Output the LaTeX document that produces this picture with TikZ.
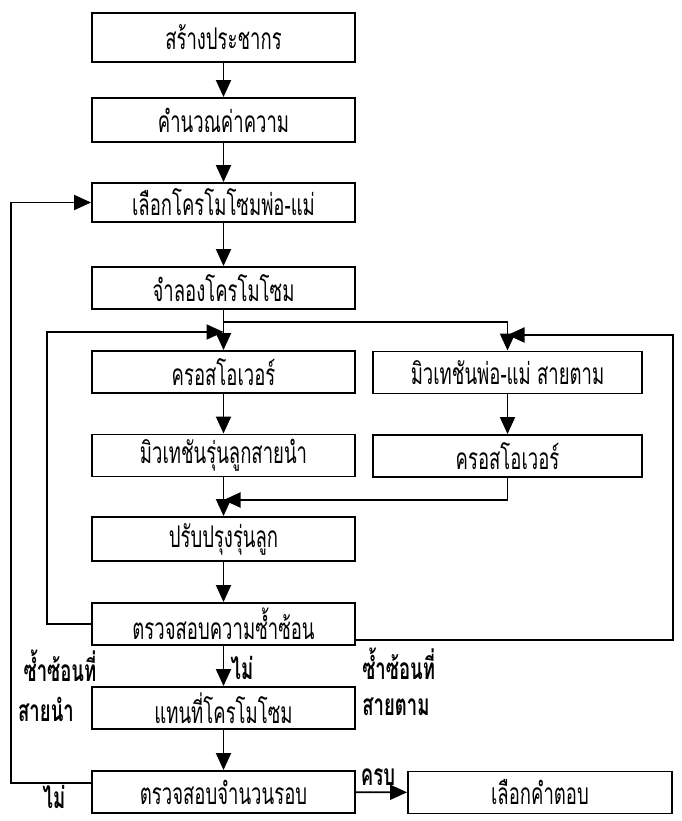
\documentclass[tikz,border=0pt]{standalone}
\usepackage{fontspec}
\newfontfamily\thaifont[Script=Thai,FakeStretch=0.62]{Loma}
\usepackage{tikz}
\usetikzlibrary{arrows.meta}

\begin{document}
\begin{tikzpicture}
            [
            x=0.02cm, y=-0.02cm,
            box/.style={draw,line width=1.1pt,minimum width=5.26cm,minimum height=0.84cm,inner sep=0pt,font=\thaifont\fontsize{17}{20}\selectfont},
            line/.style={line width=1.1pt},
            arrow/.style={line width=1.1pt,-{Triangle[length=0.34cm,width=0.3cm]}},
            note/.style={inner sep=0pt,font=\thaifont\bfseries\fontsize{17}{20}\selectfont}
            ]
        \useasboundingbox (0,0) rectangle (681,821);
        \node[box,minimum height=0.98cm] (pop) at (223.5,37.5) {สร้างประชากร};
        \node[box,minimum height=0.88cm] (fit) at (223.5,120) {คำนวณค่าความ};
        \node[box,minimum height=0.78cm] (sel) at (223.5,202.5) {เลือกโครโมโซมพ่อ-แม่};
        \node[box] (sim) at (223.5,288) {จำลองโครโมโซม};
        \node[box] (xl) at (223.5,372) {ครอสโอเวอร์};
        \node[box,minimum width=5.38cm] (mr) at (507.5,372.5) {มิวเทชันพ่อ-แม่ สายตาม};
        \node[box] (ml) at (223.5,455.5) {มิวเทชันรุ่นลูกสายนำ};
        \node[box,minimum width=5.38cm] (xr) at (507.5,456) {ครอสโอเวอร์};
        \node[box,minimum height=0.88cm] (imp) at (223.5,539) {ปรับปรุงรุ่นลูก};
        \node[box] (dup) at (223.5,624) {ตรวจสอบความซ้ำซ้อน};
        \node[box] (rep) at (223.5,708) {แทนที่โครโมโซม};
        \node[box] (gen) at (223.5,792) {ตรวจสอบจำนวนรอบ};
        \node[box,minimum width=5.28cm] (ans) at (540,792.5) {เลือกคำตอบ};
        \coordinate (split) at (223.5,322);
        \coordinate (joinl) at (223.5,332);
        \coordinate (joinr) at (507.5,335);
        \coordinate (merge) at (223.5,500);
        \coordinate (fbl) at (47,624);
        \coordinate (fbr) at (673,640);
        \coordinate (fbo) at (11,783);
        \draw[arrow] (pop) -- (fit);
        \draw[arrow] (fit) -- (sel);
        \draw[arrow] (sel) -- (sim);
        \draw[line] (sim) -- (split);
        \draw[arrow] (split) -- (xl);
        \draw[arrow] (split) -| (mr);
        \draw[arrow] (xl) -- (ml);
        \draw[arrow] (mr) -- (xr);
        \draw[arrow] (ml) -- (imp);
        \draw[arrow] (xr) |- (merge);
        \draw[arrow] (imp) -- (dup);
        \draw[arrow] (dup) -- (rep);
        \draw[arrow] (rep) -- (gen);
        \draw[arrow] (gen) -- (ans);
        \draw[arrow] (dup.west) -- (fbl) |- (joinl);
        \draw[arrow] (fbr -| dup.east) -- (fbr) |- (joinr);
        \draw[arrow] (fbo -| gen.west) -- (fbo) |- (sel.west);
        \node[note] (nodup) at (242,668) {ไม่};
        \node[note] (leadl1) at (60,666) {ซ้ำซ้อนที่};
        \node[note] (leadl2) at (46,709) {สายนำ};
        \node[note,anchor=west] (follr1) at (362,664) {ซ้ำซ้อนที่};
        \node[note,anchor=west] (follr2) at (362,707) {สายตาม};
        \node[note] (done) at (378,777) {ครบ};
        \node[note] (notdone) at (54,797) {ไม่};
        \end{tikzpicture}
\end{document}
